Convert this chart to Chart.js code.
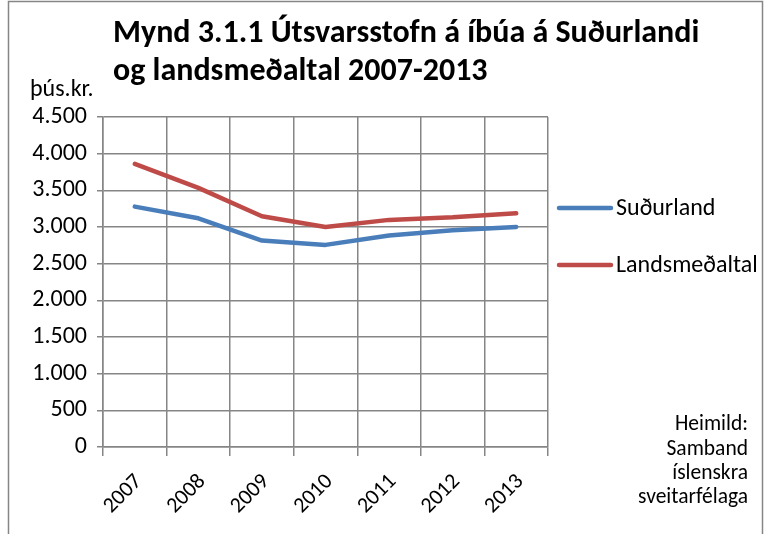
<!DOCTYPE html>
<html><head><meta charset="utf-8">
<script src="https://cdn.jsdelivr.net/npm/chart.js@4/dist/chart.umd.min.js"></script>
<style>html,body{margin:0;padding:0;background:#fff;} #wrap{position:relative;width:765px;height:534px;} canvas{display:block}</style>
</head><body><div id="wrap"><canvas id="c" width="765" height="534"></canvas></div>
<script>
const categories = ['2007','2008','2009','2010','2011','2012','2013'];
const sudurland = [3278,3119,2815,2756,2883,2955,3001];
const landsmedaltal = [3860,3533,3146,3001,3097,3132,3187];
const seriesNames = ['Suðurland','Landsmeðaltal'];
const seriesColors = ['#4a7ebb','#be4b48'];
const titleLines = ['Mynd 3.1.1 Útsvarsstofn á íbúa á Suðurlandi','og landsmeðaltal 2007-2013'];
const unitLabel = 'þús.kr.';
const sourceLines = ['Heimild:','Samband','íslenskra','sveitarfélaga'];
const yMin = 0, yMax = 4500, yStep = 500;

const FONT = 'Carlito, Lato, "Open Sans", sans-serif';
const GRID = '#868686';

function fmt(v){ return String(v).replace(/\B(?=(\d{3})+(?!\d))/g,'.'); }

const decor = {
  id:'decor',
  afterDraw(chart){
    const ctx = chart.ctx;
    ctx.save();
    // outer border
    ctx.strokeStyle = GRID; ctx.lineWidth = 1.5;
    ctx.beginPath();
    ctx.moveTo(8.5,534); ctx.lineTo(8.5,1.5); ctx.lineTo(762.5,1.5); ctx.lineTo(762.5,534);
    ctx.stroke();
    // title
    ctx.fillStyle = '#000';
    ctx.font = 'bold 32px ' + FONT;
    ctx.textAlign = 'left'; ctx.textBaseline = 'alphabetic';
    ctx.fillText(titleLines[0], 113, 42);
    ctx.fillText(titleLines[1], 113, 80);
    // unit label
    ctx.font = '24px ' + FONT;
    ctx.fillText(unitLabel, 30, 96);
    // legend
    const ly = [208, 265];
    chart.data.datasets.forEach((ds,i)=>{
      ctx.strokeStyle = ds.borderColor; ctx.lineWidth = 4.5; ctx.lineCap='round';
      ctx.beginPath(); ctx.moveTo(559, ly[i]); ctx.lineTo(611, ly[i]); ctx.stroke();
      ctx.fillStyle='#000'; ctx.font = '24px ' + FONT; ctx.textBaseline='middle';
      ctx.fillText(ds.label, 616, ly[i]+1);
    });
    // source
    ctx.textAlign='right'; ctx.textBaseline='middle'; ctx.font='21.5px ' + FONT;
    const sy=[425,450,474,498];
    sourceLines.forEach((t,i)=>ctx.fillText(t, 748, sy[i]));
    ctx.restore();
  }
};

new Chart(document.getElementById('c'), {
  type:'line',
  data:{
    labels: categories,
    datasets:[
      {label: seriesNames[0], data: sudurland, borderColor: seriesColors[0], backgroundColor: seriesColors[0], borderWidth:4.5, pointRadius:0, tension:0, borderCapStyle:'round', borderJoinStyle:'round'},
      {label: seriesNames[1], data: landsmedaltal, borderColor: seriesColors[1], backgroundColor: seriesColors[1], borderWidth:4.5, pointRadius:0, tension:0, borderCapStyle:'round', borderJoinStyle:'round'}
    ]
  },
  options:{
    responsive:false, devicePixelRatio:1, animation:false,
    layout:{padding:{top:117,right:217,left:0,bottom:0}},
    plugins:{legend:{display:false}, title:{display:false}, tooltip:{enabled:false}},
    scales:{
      x:{
        offset:true,
        grid:{offset:true, color:GRID, lineWidth:1.5, tickLength:9},
        border:{color:GRID, width:1.5},
        ticks:{minRotation:45, maxRotation:45, color:'#000', font:{family:FONT, size:22}, padding:13, labelOffset:4},
        afterFit(s){ s.height = 87; }
      },
      y:{
        min:yMin, max:yMax,
        grid:{color:GRID, lineWidth:1.5, tickLength:6},
        border:{color:GRID, width:1.5},
        ticks:{stepSize:yStep, color:'#000', font:{family:FONT, size:24}, padding:10, callback:v=>fmt(v)},
        afterFit(s){ s.width = 103; }
      }
    }
  },
  plugins:[decor]
});
</script></body></html>
